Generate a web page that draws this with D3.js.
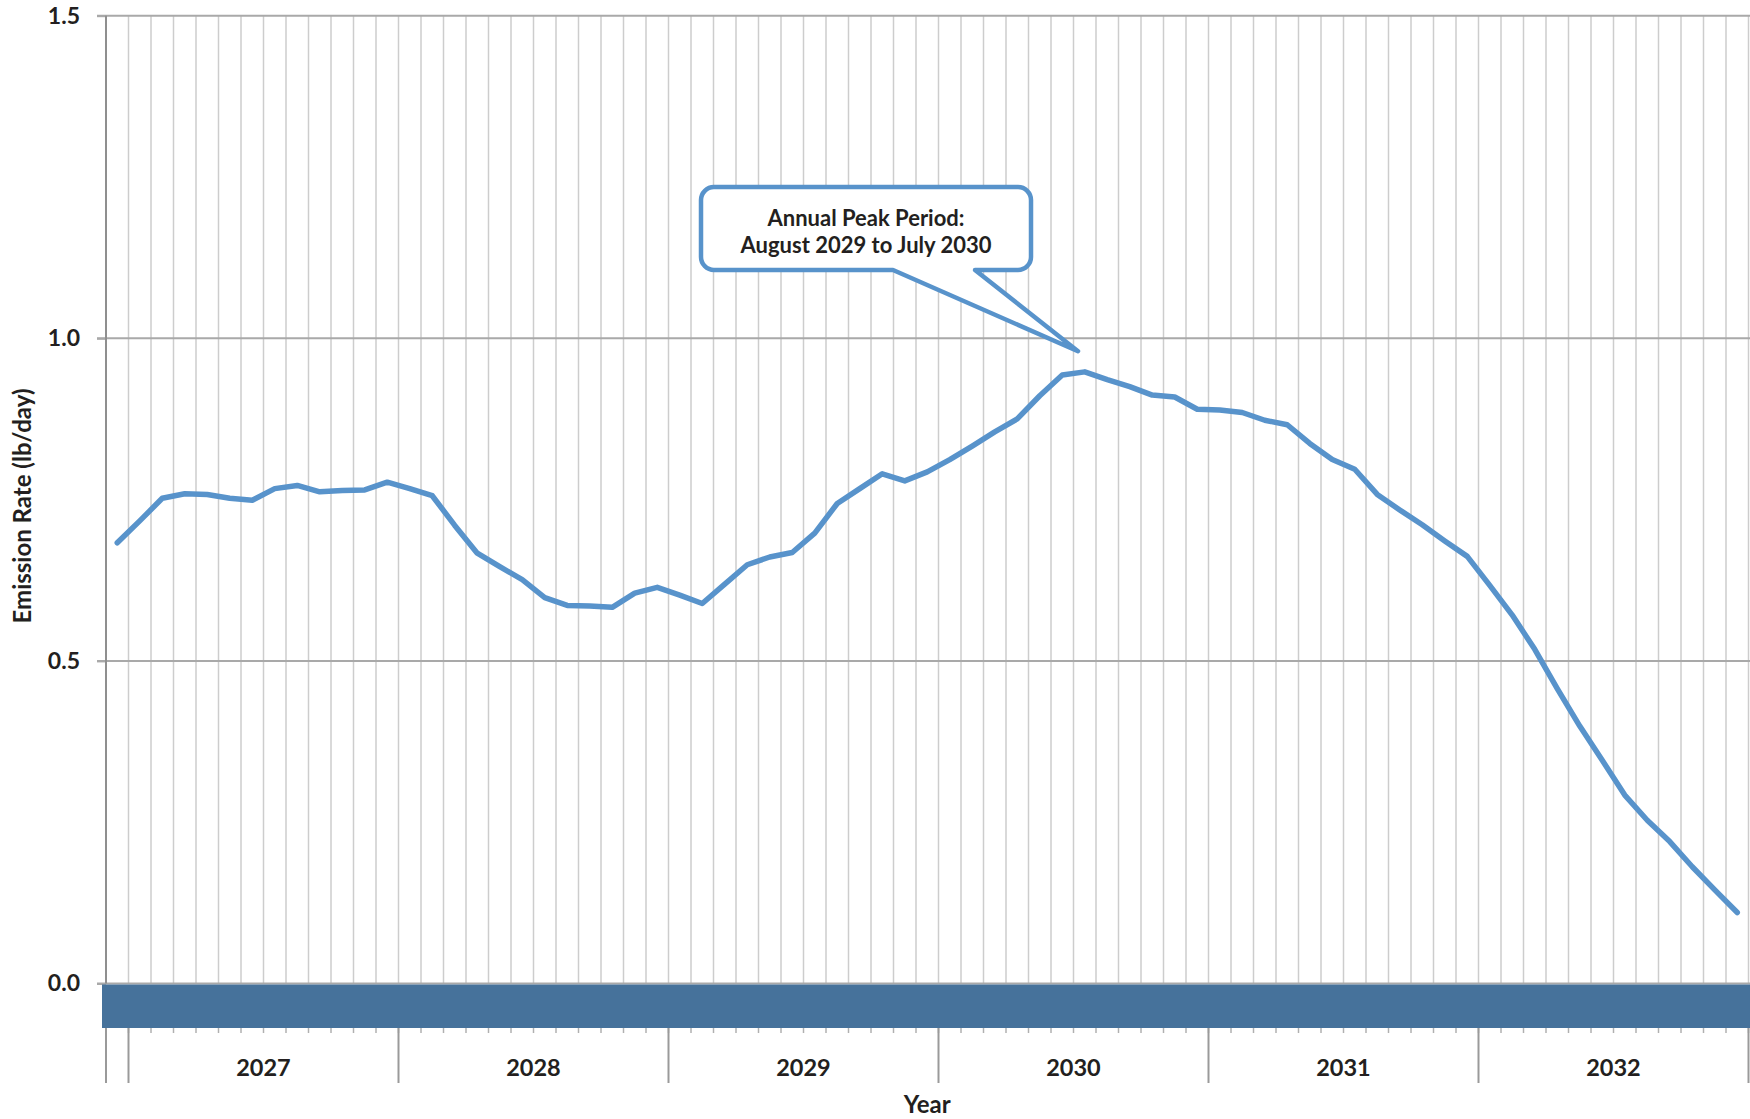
<!DOCTYPE html>
<html>
<head>
<meta charset="utf-8">
<script src="https://cdn.jsdelivr.net/npm/d3@7"></script>
<style>
body { margin: 0; background: #fff; }
svg text { font-family: Lato, "Open Sans", sans-serif; font-weight: bold; fill: #231f20; }
</style>
</head>
<body>
<script>
var width = 1750,
    height = 1119;

// categories
var monthNames = ['Jan','Feb','Mar','Apr','May','Jun','Jul','Aug','Sep','Oct','Nov','Dec'];
var yearLabels = ['2027','2028','2029','2030','2031','2032'];
var months = ['Dec 2026'];
yearLabels.forEach(function (yr) {
    monthNames.forEach(function (m) { months.push(m + ' ' + yr); });
});

// monthly emission rate (lb/day), Dec 2026 .. Dec 2032
var emission = [
    0.683,
    0.717, 0.752, 0.759, 0.758, 0.752, 0.749, 0.767, 0.772, 0.762, 0.764, 0.765, 0.777,
    0.767, 0.756, 0.710, 0.667, 0.646, 0.626, 0.598, 0.586, 0.585, 0.583, 0.605, 0.614,
    0.602, 0.589, 0.619, 0.649, 0.661, 0.668, 0.698, 0.744, 0.767, 0.790, 0.779, 0.793,
    0.812, 0.833, 0.855, 0.875, 0.911, 0.943, 0.948, 0.936, 0.925, 0.912, 0.909, 0.890,
    0.889, 0.885, 0.873, 0.866, 0.837, 0.812, 0.797, 0.758, 0.734, 0.711, 0.686, 0.662,
    0.617, 0.571, 0.518, 0.457, 0.399, 0.346, 0.292, 0.253, 0.220, 0.181, 0.145, 0.110
];

var yTicks = [0, 0.5, 1.0, 1.5];

var calloutLines = ['Annual Peak Period:', 'August 2029 to July 2030'];
var calloutValue = 0.98;

var svg = d3.select('body').append('svg')
    .attr('width', width)
    .attr('height', height);

var x = d3.scaleBand()
    .domain(months)
    .range([106, 1748.5])
    .padding(0);

var y = d3.scaleLinear()
    .domain([0, 1.5])
    .range([983.5, 15.7]);

var bw = x.bandwidth();
var bounds = months.map(function (m) { return x(m); }).concat([x.range()[1]]);

// vertical month gridlines
svg.append('g').selectAll('line')
    .data(bounds)
    .enter().append('line')
    .attr('x1', function (d) { return d; })
    .attr('x2', function (d) { return d; })
    .attr('y1', y(1.5))
    .attr('y2', y(0))
    .attr('stroke', '#cdcdcd')
    .attr('stroke-width', 1.5);

// horizontal gridlines
svg.append('g').selectAll('line')
    .data(yTicks)
    .enter().append('line')
    .attr('x1', 97)
    .attr('x2', width)
    .attr('y1', function (d) { return y(d); })
    .attr('y2', function (d) { return y(d); })
    .attr('stroke', '#a9a9a9')
    .attr('stroke-width', 2);

// y axis
var yAxis = svg.append('g')
    .attr('transform', 'translate(106,0)')
    .call(d3.axisLeft(y).tickValues(yTicks).tickFormat(d3.format('.1f')).tickSize(9).tickPadding(17));
yAxis.select('.domain').remove();
yAxis.selectAll('.tick line').attr('stroke', '#a9a9a9').attr('stroke-width', 2);
yAxis.selectAll('.tick text').style('font-size', '23px').attr('fill', '#231f20');

svg.append('line')
    .attr('x1', 106).attr('x2', 106)
    .attr('y1', y(1.5)).attr('y2', y(0))
    .attr('stroke', '#8f8f8f')
    .attr('stroke-width', 2);

// category band along the x axis
var bandTop = y(0) + 1,
    bandBottom = 1028;
svg.append('rect')
    .attr('x', 102)
    .attr('y', bandTop)
    .attr('width', width - 102)
    .attr('height', bandBottom - bandTop)
    .attr('fill', '#46729b');

// month ticks below the band
svg.append('g').selectAll('line')
    .data(bounds)
    .enter().append('line')
    .attr('x1', function (d) { return d; })
    .attr('x2', function (d) { return d; })
    .attr('y1', bandBottom)
    .attr('y2', bandBottom + 5)
    .attr('stroke', '#b0b0b0')
    .attr('stroke-width', 1.5);

// year dividers
var yearBounds = [x(months[0])].concat(yearLabels.map(function (yr) { return x('Jan ' + yr); })).concat([x.range()[1]]);
svg.append('g').selectAll('line')
    .data(yearBounds)
    .enter().append('line')
    .attr('x1', function (d) { return d; })
    .attr('x2', function (d) { return d; })
    .attr('y1', bandBottom)
    .attr('y2', 1083)
    .attr('stroke', '#9a9a9a')
    .attr('stroke-width', 2);

// year labels
svg.append('g').selectAll('text')
    .data(yearLabels)
    .enter().append('text')
    .attr('x', function (yr) { return (x('Jan ' + yr) + x('Dec ' + yr) + bw) / 2; })
    .attr('y', 1076)
    .attr('text-anchor', 'middle')
    .style('font-size', '23.5px')
    .text(function (d) { return d; });

// axis titles
svg.append('text')
    .attr('x', (x.range()[0] + x.range()[1]) / 2)
    .attr('y', 1113)
    .attr('text-anchor', 'middle')
    .style('font-size', '24px')
    .text('Year');

svg.append('text')
    .attr('transform', 'translate(31,' + 506 + ') rotate(-90)')
    .attr('text-anchor', 'middle')
    .style('font-size', '24px')
    .text('Emission Rate (lb/day)');

// data line
var line = d3.line()
    .x(function (d, i) { return x(months[i]) + bw / 2; })
    .y(function (d) { return y(d); });

svg.append('path')
    .datum(emission)
    .attr('d', line)
    .attr('fill', 'none')
    .attr('stroke', '#5893cb')
    .attr('stroke-width', 5.5)
    .attr('stroke-linejoin', 'round')
    .attr('stroke-linecap', 'round');

// callout
var box = {left: 701, top: 187, right: 1031, bottom: 270, r: 13, baseL: 893, baseR: 975};
var tipX = x('Jul 2030') + 4.5,
    tipY = y(calloutValue);
var r = box.r;
var p = 'M' + (box.left + r) + ',' + box.top +
    'H' + (box.right - r) +
    'A' + r + ',' + r + ' 0 0 1 ' + box.right + ',' + (box.top + r) +
    'V' + (box.bottom - r) +
    'A' + r + ',' + r + ' 0 0 1 ' + (box.right - r) + ',' + box.bottom +
    'H' + box.baseR +
    'L' + tipX + ',' + tipY +
    'L' + box.baseL + ',' + box.bottom +
    'H' + (box.left + r) +
    'A' + r + ',' + r + ' 0 0 1 ' + box.left + ',' + (box.bottom - r) +
    'V' + (box.top + r) +
    'A' + r + ',' + r + ' 0 0 1 ' + (box.left + r) + ',' + box.top + 'Z';

svg.append('path')
    .attr('d', p)
    .attr('fill', '#fff')
    .attr('stroke', '#5893cb')
    .attr('stroke-width', 4.5)
    .attr('stroke-linejoin', 'round');

svg.append('g').selectAll('text')
    .data(calloutLines)
    .enter().append('text')
    .attr('x', 866)
    .attr('y', function (d, i) { return 226 + i * 27; })
    .attr('text-anchor', 'middle')
    .style('font-size', '22px')
    .text(function (d) { return d; });
</script>
</body>
</html>
